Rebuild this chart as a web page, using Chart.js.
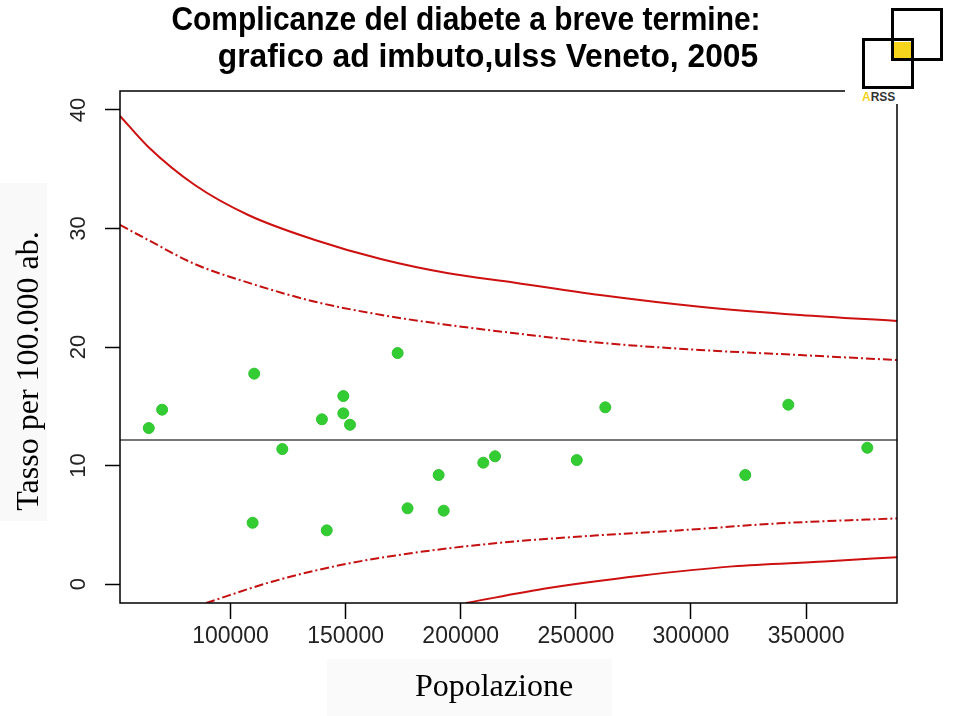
<!DOCTYPE html>
<html>
<head>
<meta charset="utf-8">
<script src="https://cdn.jsdelivr.net/npm/chart.js@4.4.1/dist/chart.umd.min.js"></script>
<style>
  html, body { margin: 0; padding: 0; background: #fff; }
  #wrap { position: relative; width: 960px; height: 716px; overflow: hidden; background: #fff; }
  #c { position: absolute; left: 0; top: 0; }
  .t1, .t2 { position: absolute; font-family: 'Liberation Sans', Arial, sans-serif; font-weight: bold;
             font-size: 31px; line-height: 31px; white-space: nowrap; color: #000; }
  .t1 { transform: translateX(-50%) scale(0.966, 1.1); }
  .t2 { transform: translateX(-50%) scale(1.025, 1.1); }
  #ytitle { position: absolute; left: -173px; top: 351px; width: 400px; height: 40px; line-height: 40px;
            text-align: center; font-family: 'Liberation Serif', 'Times New Roman', serif; font-size: 32px;
            color: #000; transform: rotate(-90deg); white-space: nowrap; }
  #xtitle { position: absolute; left: 294px; top: 665px; width: 400px; height: 40px; line-height: 40px;
            text-align: center; font-family: 'Liberation Serif', 'Times New Roman', serif; font-size: 32px;
            color: #000; white-space: nowrap; }
  #ybg { position: absolute; left: 0; top: 183px; width: 47px; height: 338px; background: #f9f9f9; }
  #xbg { position: absolute; left: 327px; top: 659px; width: 285px; height: 57px; background: #fafafa; }
  #logo { position: absolute; left: 845px; top: 0; width: 115px; height: 104px; background: #fff; }
  .sq { position: absolute; border: 3.5px solid #000; box-sizing: border-box; }
</style>
</head>
<body>
<div id="wrap">
  <div id="ybg"></div>
  <div id="xbg"></div>
  <canvas id="c" width="960" height="716"></canvas>
  <div class="t1" style="left:466px; top:3px;">Complicanze del diabete a breve termine:</div>
  <div class="t2" style="left:488px; top:40px;">grafico ad imbuto,ulss Veneto, 2005</div>
  <div id="ytitle">Tasso per 100.000 ab.</div>
  <div id="xtitle">Popolazione</div>
  <div id="logo">
    <div style="position:absolute; left:48px; top:42px; width:19px; height:18px; background:#f7d51d;"></div>
    <div class="sq" style="left:46px; top:8px; width:52px; height:53px;"></div>
    <div class="sq" style="left:17px; top:38px; width:52px; height:51px;"></div>
    <div style="position:absolute; left:17px; top:91px; font-family:'Liberation Sans', Arial, sans-serif; font-weight:bold; font-size:12px; line-height:12px; color:#333;"><span style="color:#f2d21c">A</span>RSS</div>
  </div>
</div>
<script>
// ---- Data ----
const popolazione = [64500, 70300, 110300, 122500, 139700, 149000, 149000, 151900, 172600,
                     109600, 141800, 176900, 190400, 192600, 209800, 214900, 262800, 342300,
                     250400, 323600, 376600];
const tasso = [13.16, 14.71, 17.75, 11.39, 13.9, 15.86, 14.4, 13.44, 19.49,
               5.17, 4.53, 6.39, 9.2, 6.19, 10.24, 10.78, 14.91, 15.13,
               10.46, 9.2, 11.5];
const mediaRegionale = 12.15;

// upper limit (outer, solid)
const supEsternoPop = [52000, 64200, 84500, 107700, 136700, 165700, 194600, 223600, 260500, 303900, 347400, 389500];
const supEsterno    = [39.5, 36.9, 33.67, 31.14, 29.03, 27.4, 26.22, 25.43, 24.39, 23.4, 22.7, 22.19];
// upper limit (inner, dash-dot)
const supInternoPop = [52000, 64200, 84500, 107700, 136700, 165700, 194600, 223600, 260500, 303900, 347400, 389500];
const supInterno    = [30.3, 29.03, 27.0, 25.43, 23.82, 22.7, 21.86, 21.16, 20.36, 19.75, 19.32, 18.9];
// lower limit (inner, dash-dot)
const infInternoPop = [89400, 118400, 148300, 178300, 218200, 258200, 298100, 338000, 389500];
const infInterno    = [-1.6, 0.22, 1.62, 2.6, 3.5, 4.09, 4.57, 5.12, 5.54];
// lower limit (outer, solid)
const infEsternoPop = [202200, 238200, 278100, 318100, 358000, 389500];
const infEsterno    = [-1.6, -0.34, 0.7, 1.49, 1.9, 2.27];

const xTicks = [100000, 150000, 200000, 250000, 300000, 350000];
const yTicks = [0, 10, 20, 30, 40];
const xMin = 52000, xMax = 389500;
const yMin = -1.6, yMax = 41.6;

const zip = (xs, ys) => xs.map((x, i) => ({ x: x, y: ys[i] }));

const boxPlugin = {
  id: 'box',
  afterDatasetsDraw(chart) {
    const { ctx, chartArea: a } = chart;
    ctx.save();
    ctx.strokeStyle = '#000';
    ctx.lineWidth = 1.5;
    ctx.strokeRect(a.left, a.top, a.right - a.left, a.bottom - a.top);
    ctx.restore();
  }
};

const lineDs = (label, data, color, dash) => ({
  type: 'scatter', label, data, showLine: true, pointRadius: 0, borderColor: color,
  borderWidth: 2, borderDash: dash, cubicInterpolationMode: 'monotone', fill: false
});

new Chart(document.getElementById('c'), {
  type: 'scatter',
  data: {
    datasets: [
      { label: 'ULSS', data: zip(popolazione, tasso), pointRadius: 5.5, pointHoverRadius: 5.5,
        backgroundColor: '#33cc33', borderColor: '#2fc42f', borderWidth: 1 },
      { label: 'Media', data: [{ x: xMin, y: mediaRegionale }, { x: xMax, y: mediaRegionale }],
        showLine: true, pointRadius: 0, borderColor: '#4a4a4a', borderWidth: 1.5 },
      lineDs('Limite sup. 99.8%', zip(supEsternoPop, supEsterno), '#cd1010', []),
      lineDs('Limite sup. 95%', zip(supInternoPop, supInterno), '#c41010', [9, 3, 2, 3]),
      lineDs('Limite inf. 95%', zip(infInternoPop, infInterno), '#c41010', [9, 3, 2, 3]),
      lineDs('Limite inf. 99.8%', zip(infEsternoPop, infEsterno), '#cd1010', [])
    ]
  },
  options: {
    responsive: false,
    animation: false,
    layout: { padding: { top: 91, right: 63, left: 0, bottom: 0 } },
    plugins: { legend: { display: false }, tooltip: { enabled: false }, title: { display: false } },
    scales: {
      x: {
        type: 'linear', min: xMin, max: xMax,
        afterBuildTicks: s => { s.ticks = xTicks.map(v => ({ value: v })); },
        afterFit: s => { s.height = 113; },
        grid: { display: true, drawOnChartArea: false, drawTicks: true, tickLength: 16, tickWidth: 1.5, tickColor: '#000' },
        border: { display: false },
        ticks: { autoSkip: false, maxRotation: 0, minRotation: 0, padding: 4, color: '#222',
                 font: { family: "'Liberation Sans', Arial, sans-serif", size: 23 },
                 callback: v => String(v) }
      },
      y: {
        type: 'linear', min: yMin, max: yMax,
        afterBuildTicks: s => { s.ticks = yTicks.map(v => ({ value: v })); },
        afterFit: s => { s.width = 120; },
        grid: { display: true, drawOnChartArea: false, drawTicks: true, tickLength: 15, tickWidth: 1.5, tickColor: '#000' },
        border: { display: false },
        ticks: { autoSkip: false, minRotation: 90, maxRotation: 90, crossAlign: 'center', padding: 14, color: '#222',
                 font: { family: "'Liberation Sans', Arial, sans-serif", size: 22 },
                 callback: v => String(v) }
      }
    }
  },
  plugins: [boxPlugin]
});
</script>
</body>
</html>
